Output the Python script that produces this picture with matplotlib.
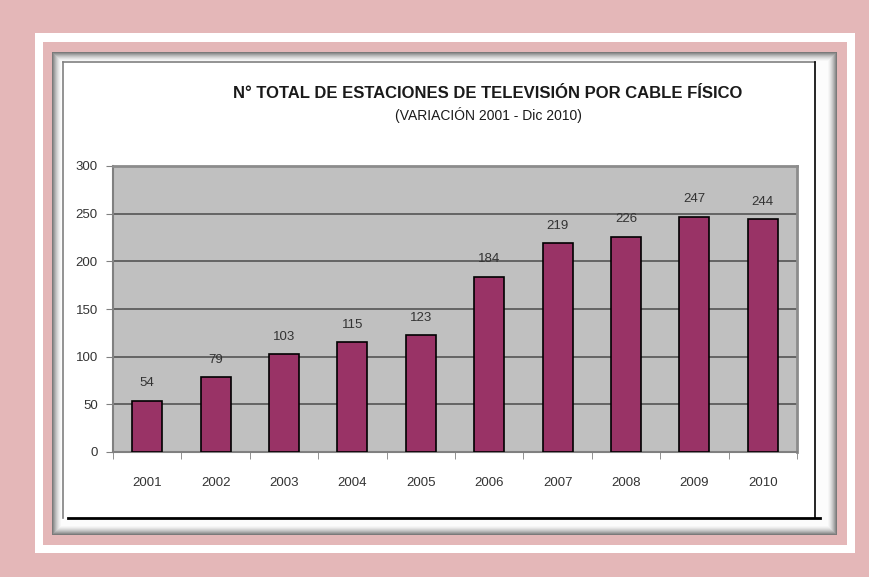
import matplotlib
matplotlib.use('Agg')
import matplotlib.pyplot as plt
from matplotlib.patches import Rectangle
from matplotlib.lines import Line2D

# data
years = ['2001', '2002', '2003', '2004', '2005', '2006', '2007', '2008', '2009', '2010']
stations = [54, 79, 103, 115, 123, 184, 219, 226, 247, 244]

title = 'N° TOTAL DE ESTACIONES DE TELEVISIÓN POR CABLE FÍSICO'
subtitle = '(VARIACIÓN 2001 - Dic 2010)'

pink = '#E4B7B8'
bar_color = '#993366'
W, H = 870, 577

plt.rcParams['font.family'] = ['Liberation Sans', 'DejaVu Sans']

fig = plt.figure(figsize=(W / 100, H / 100), dpi=100)
fig.patch.set_facecolor(pink)


def px_rect(x0, y0, x1, y1, **kw):
    # rectangle given in pixel coords (top-left origin)
    r = Rectangle((x0 / W, 1 - y1 / H), (x1 - x0) / W, (y1 - y0) / H,
                  transform=fig.transFigure, zorder=-5, **kw)
    fig.patches.append(r)
    return r


def px_line(xs, ys, **kw):
    fig.lines.append(Line2D([x / W for x in xs], [1 - y / H for y in ys],
                            transform=fig.transFigure, zorder=-4, **kw))


# white frame and inner pink border
px_rect(35, 33, 855, 553, facecolor='white', edgecolor='none')
px_rect(43, 42, 847, 545, facecolor=pink, edgecolor='none')

# shadowed panel (approximate gradient with nested rects)
shades = ['#7a7a7a', '#8f8f8f', '#a3a3a3', '#b6b6b6', '#c7c7c7', '#d6d6d6',
          '#e3e3e3', '#eeeeee', '#f6f6f6', '#fcfcfc']
for i, c in enumerate(shades):
    d = i * 1.0
    px_rect(52 + d, 52 + d, 837 - d, 535 - d, facecolor=c, edgecolor='none')
px_rect(62, 61, 816, 519, facecolor='white', edgecolor='none')

# chart border lines
px_line([63, 63], [62, 518], color='#808080', lw=1.2)
px_line([63, 815], [62, 62], color='#808080', lw=1.2)
px_line([815, 815], [62, 518], color='black', lw=1.2)
px_line([68, 820], [518, 518], color='black', lw=2)

# titles
fig.text(488 / W, 1 - 93 / H, title, ha='center', va='center',
         fontsize=12, fontweight='bold', color='#1a1a1a')
fig.text(488 / W, 1 - 115 / H, subtitle, ha='center', va='center',
         fontsize=10, color='#1a1a1a')

# plot area
ax = fig.add_axes([113 / W, 1 - 452 / H, (797 - 113) / W, (452 - 166) / H])
ax.set_zorder(5)
ax.set_facecolor('#C0C0C0')

x = range(len(years))
ax.bar(x, stations, width=0.44, color=bar_color, edgecolor='black', linewidth=1.2, zorder=3)

for xi, v in zip(x, stations):
    ax.annotate(str(v), (xi, v), xytext=(0, 8), textcoords='offset points',
                ha='center', va='bottom', fontsize=9.5, color='#333333', zorder=4)

ax.set_xlim(-0.5, len(years) - 0.5)
ax.set_ylim(0, 300)
ax.set_yticks(range(0, 301, 50))
ax.yaxis.grid(True, color='#555555', linewidth=1.2, zorder=1)
ax.set_axisbelow(True)

ax.set_xticks([i + 0.5 for i in range(-1, len(years))], minor=True)
ax.set_xticks(list(x))
ax.set_xticklabels(years)
ax.tick_params(axis='x', which='major', length=0, pad=18, labelsize=9.5, labelcolor='#333333')
ax.tick_params(axis='x', which='minor', length=5, direction='out', color='#808080')
ax.tick_params(axis='y', length=5, direction='out', color='#808080', labelsize=9.5,
               labelcolor='#333333', pad=6)

for side in ['top', 'right']:
    ax.spines[side].set_color('#8c8c8c')
    ax.spines[side].set_linewidth(2)
for side in ['left', 'bottom']:
    ax.spines[side].set_color('#808080')
    ax.spines[side].set_linewidth(1.5)

fig.savefig('out.png', dpi=100, facecolor=pink)
